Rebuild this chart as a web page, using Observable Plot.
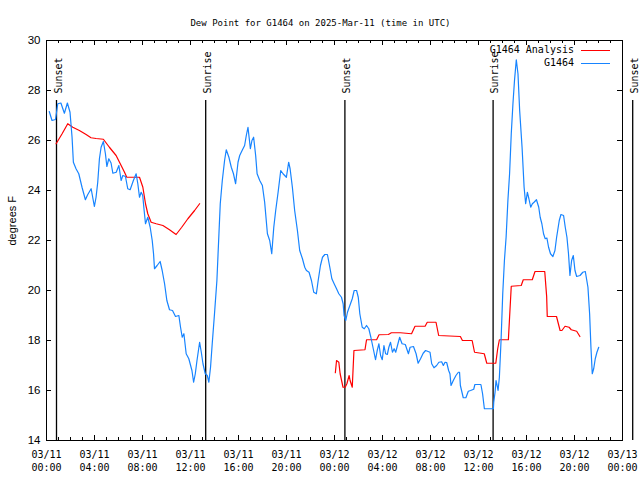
<!DOCTYPE html>
<html>
<head>
<meta charset="utf-8">
<script src="https://cdn.jsdelivr.net/npm/d3@7"></script>
<script src="https://cdn.jsdelivr.net/npm/@observablehq/plot@0.6"></script>
<style>
  body { margin: 0; background: #fff; }
  #wrap { position: relative; width: 640px; height: 480px; }
  .legtext { position: absolute; font: 10px "DejaVu Sans Mono", monospace; color: #000; white-space: pre; text-align: right; line-height: 12px; }
  .legline { position: absolute; height: 1px; }
</style>
</head>
<body>
<div id="wrap"></div>
<script>
// ---- data ----
const titleText = "Dew Point for G1464 on 2025-Mar-11 (time in UTC)";
const yLabel = "degrees F";
const startTime = "2025-03-11T00:00Z";
const endTime = "2025-03-13T00:00Z";
const yTicks = [14, 16, 18, 20, 22, 24, 26, 28, 30];
const seriesNames = ["G1464 Analysis", "G1464"];
const seriesColors = ["#ff0000", "#1784ff"];

const sunTimes = ["2025-03-11T00:50Z", "2025-03-11T13:16Z", "2025-03-12T00:52Z", "2025-03-12T13:13Z", "2025-03-13T00:51Z"];
const sunLabels = ["Sunset", "Sunrise", "Sunset", "Sunrise", "Sunset"];

// G1464 observations: hours since 03/11 00:00 UTC, and dew point (F)
const g1464Hours = [0.23,0.46,0.75,0.94,1.2,1.49,1.74,1.96,2.13,2.24,2.46,2.69,2.96,3.24,3.43,3.72,3.99,4.13,4.27,4.41,4.55,4.74,4.91,5.03,5.19,5.38,5.53,5.81,6.03,6.22,6.36,6.58,6.77,6.97,7.24,7.47,7.61,7.75,7.89,8.02,8.11,8.25,8.44,8.64,8.81,8.92,9.0,9.22,9.47,9.64,9.84,10.03,10.25,10.5,10.75,11.03,11.17,11.31,11.45,11.64,11.86,12.12,12.26,12.4,12.54,12.76,12.9,13.04,13.23,13.4,13.53,13.67,13.81,14.0,14.2,14.37,14.48,14.65,14.84,14.98,15.2,15.4,15.58,15.76,15.96,16.1,16.3,16.51,16.65,16.79,16.99,17.12,17.26,17.43,17.55,17.77,17.99,18.18,18.41,18.6,18.77,18.94,19.1,19.3,19.52,19.71,19.99,20.18,20.3,20.49,20.68,20.91,21.1,21.33,21.52,21.66,21.88,22.08,22.27,22.49,22.64,22.83,23.0,23.19,23.41,23.61,23.78,23.97,24.17,24.36,24.58,24.72,24.8,24.94,25.08,25.28,25.48,25.64,25.84,25.98,26.11,26.31,26.48,26.67,26.86,27.03,27.23,27.42,27.56,27.7,27.84,27.98,28.12,28.26,28.4,28.53,28.67,28.83,28.97,29.1,29.43,29.63,29.9,30.16,30.3,30.58,30.8,30.97,31.17,31.39,31.59,31.96,32.1,32.29,32.51,32.7,32.93,33.07,33.21,33.35,33.51,33.62,33.71,33.9,34.12,34.32,34.42,34.49,34.73,34.95,35.15,35.34,35.6,35.7,36.2,36.34,36.49,37.24,37.27,37.38,37.46,37.55,37.63,37.74,37.88,38.02,38.16,38.3,38.45,38.59,38.73,38.87,39.0,39.15,39.29,39.43,39.63,39.8,39.93,40.07,40.2,40.35,40.49,40.63,40.83,41.02,41.14,41.28,41.42,41.56,41.7,41.84,42.0,42.2,42.37,42.51,42.73,42.87,43.09,43.23,43.37,43.5,43.62,43.76,43.9,44.04,44.18,44.46,44.69,44.9,45.12,45.26,45.37,45.48,45.6,45.73,45.87,46.02];
const g1464Values = [27.16,26.8,26.84,27.47,27.5,27.09,27.5,27.13,26.13,25.13,24.87,24.67,24.13,23.63,23.83,24.07,23.36,23.73,24.33,25.27,25.73,25.96,25.47,24.96,25.27,25.1,24.69,24.73,25.0,24.4,24.6,24.56,24.07,24.03,24.4,24.67,24.27,23.73,23.93,23.8,23.33,22.67,22.93,22.53,22.0,21.47,20.87,21.0,21.16,20.8,20.27,19.6,19.23,19.2,18.96,19.0,18.53,18.13,18.27,17.47,17.27,16.8,16.33,16.67,17.2,17.93,17.53,17.07,16.67,16.6,16.33,16.93,17.87,19.07,20.4,22.27,23.47,24.4,25.2,25.63,25.33,24.93,24.67,24.27,25.13,25.4,25.6,25.8,26.2,26.53,25.67,26.0,26.13,25.4,24.67,24.4,24.2,23.53,22.27,22.0,21.47,22.53,23.2,23.93,24.8,24.67,24.53,25.13,24.87,24.13,23.2,22.4,21.6,21.27,20.93,20.8,20.73,20.4,19.93,19.87,20.4,21.0,21.33,21.44,21.44,20.93,20.47,20.27,20.07,19.87,19.73,19.47,19.0,18.8,19.13,19.4,19.67,20.0,20.0,19.73,19.07,18.53,18.47,18.6,18.47,18.13,17.67,17.23,17.6,17.87,17.4,17.23,17.8,17.47,17.44,17.73,17.93,17.53,17.67,17.53,18.13,17.87,17.84,17.47,17.73,17.76,17.47,17.09,17.27,17.49,17.6,17.53,17.07,16.91,17.0,17.13,17.15,17.0,17.13,17.12,16.8,16.67,16.2,16.4,16.6,16.73,16.73,16.2,15.71,15.71,15.97,16.0,16.05,16.24,16.24,15.87,15.27,15.27,15.53,15.93,16.4,16.2,16.0,16.53,18.0,19.87,21.2,22.13,23.6,24.67,26.27,27.47,28.4,29.23,28.67,27.2,25.73,24.13,23.47,23.93,23.67,23.33,23.47,23.53,23.63,23.33,22.93,22.67,22.27,22.07,22.1,21.73,21.47,21.36,21.6,22.13,22.8,23.04,23.0,22.53,22.13,21.47,20.6,21.2,21.4,20.8,20.56,20.6,20.73,20.76,20.13,19.07,17.73,16.67,16.87,17.27,17.53,17.73];

// G1464 Analysis: hours since 03/11 00:00 UTC, dew point (F); null marks a gap
const analysisHours = [0.8,1.3,1.77,2.19,2.74,3.3,3.71,4.13,4.74,5.24,5.8,6.22,6.5,6.69,7.75,8.03,8.25,8.44,8.72,9.14,9.7,10.25,10.8,11.27,11.78,12.34,12.76,18.0,24.07,24.17,24.36,24.47,24.71,24.89,25.03,25.22,25.3,25.48,25.62,26.54,26.67,27.51,27.71,28.49,28.74,29.49,30.42,30.71,31.55,31.73,32.46,32.68,34.49,34.66,35.47,35.67,36.48,36.69,37.44,37.6,37.74,38.49,38.73,39.56,39.73,40.48,40.71,41.52,41.68,41.73,42.5,42.8,42.95,43.21,43.55,43.73,44.18,44.45];
const analysisValues = [25.87,26.27,26.67,26.53,26.4,26.24,26.11,26.08,26.05,25.73,25.4,25.0,24.73,24.53,24.53,24.13,23.47,23.07,22.73,22.67,22.6,22.43,22.24,22.53,22.87,23.2,23.47,null,16.71,17.2,17.13,16.67,16.13,16.13,16.27,16.6,16.4,16.13,17.6,17.63,18.03,18.03,18.23,18.24,18.31,18.31,18.27,18.57,18.57,18.73,18.73,18.2,18.16,18.0,18.0,17.53,17.47,17.09,17.09,17.67,18.03,18.03,20.17,20.2,20.43,20.43,20.76,20.76,19.76,18.96,18.96,18.4,18.4,18.57,18.53,18.43,18.37,18.16];

// ---- build ----
const t0 = Date.parse(startTime);
const toDate = h => new Date(t0 + h * 3600e3);
const obs = g1464Hours.map((h, i) => ({t: toDate(h), v: g1464Values[i]}));
const ana = analysisHours.map((h, i) => ({t: toDate(h), v: analysisValues[i]}));
const sun = sunTimes.map((s, i) => ({t: new Date(s), label: sunLabels[i]}));
const x0 = new Date(startTime), x1 = new Date(endTime);
const majorTicks = d3.utcHour.every(4).range(x0, new Date(+x1 + 1));
const minorTicks = d3.utcHour.range(x0, x1).filter(d => d.getUTCHours() % 4 !== 0);
const fmt = d3.utcFormat("%m/%d\n%H:%M");

const W = 640, H = 480, mL = 46, mR = 18, mT = 40, mB = 40;
const pw = W - mL - mR, ph = H - mT - mB;
const mono = "DejaVu Sans Mono, monospace";
const sans = "Liberation Sans, Arial, sans-serif";

const chart = Plot.plot({
  width: W, height: H,
  marginLeft: mL, marginRight: mR, marginTop: mT, marginBottom: mB,
  x: {type: "utc", domain: [x0, x1], axis: null},
  y: {domain: [14, 30], axis: null},
  style: {background: "white", overflow: "visible"},
  marks: [
    Plot.ruleX(sun, {x: "t", insetTop: 60, stroke: "black", strokeWidth: 1.3}),
    Plot.text(sun, {x: "t", text: "label", rotate: -90, frameAnchor: "top", dy: 53, dx: -2,
      textAnchor: "start", fontFamily: mono, fontSize: 10, fill: "black"}),
    Plot.line(ana, {x: "t", y: "v", stroke: seriesColors[0], strokeWidth: 1.2, clip: true}),
    Plot.line(obs, {x: "t", y: "v", stroke: seriesColors[1], strokeWidth: 1.2, clip: true}),
    Plot.frame({stroke: "black", strokeWidth: 1}),
    // bottom & top ticks (inward)
    Plot.tickX(majorTicks, {x: d => d, insetTop: ph - 5, stroke: "black"}),
    Plot.tickX(minorTicks, {x: d => d, insetTop: ph - 3, stroke: "black"}),
    Plot.tickX(majorTicks, {x: d => d, insetBottom: ph - 5, stroke: "black"}),
    Plot.tickX(minorTicks, {x: d => d, insetBottom: ph - 3, stroke: "black"}),
    // left & right ticks (inward)
    Plot.tickY(yTicks, {y: d => d, insetRight: pw - 5, stroke: "black"}),
    Plot.tickY(yTicks, {y: d => d, insetLeft: pw - 5, stroke: "black"}),
    // tick labels
    Plot.text(majorTicks, {x: d => d, text: d => fmt(d), frameAnchor: "bottom", lineAnchor: "top",
      dy: 8, lineHeight: 1.3, fontFamily: mono, fontSize: 10, fill: "black"}),
    Plot.text(yTicks, {y: d => d, text: d => String(d), frameAnchor: "left", dx: -6,
      textAnchor: "end", fontFamily: sans, fontSize: 11.5, fill: "black"}),
    Plot.text([yLabel], {text: d => d, frameAnchor: "left", dx: -34, dy: 5, rotate: -90,
      fontFamily: sans, fontSize: 11, fill: "black"}),
    Plot.text([titleText], {text: d => d, frameAnchor: "top", dy: -21, dx: -(mL - mR) / 2,
      fontFamily: mono, fontSize: 9, fill: "black"})
  ]
});

const wrap = document.getElementById("wrap");
wrap.appendChild(chart);

// legend (top right, inside plot)
seriesNames.forEach((name, i) => {
  const cy = 50 + i * 13;
  const t = document.createElement("div");
  t.className = "legtext";
  t.textContent = name;
  t.style.right = (W - 574) + "px";
  t.style.top = (cy - 6) + "px";
  wrap.appendChild(t);
  const l = document.createElement("div");
  l.className = "legline";
  l.style.left = "581px";
  l.style.width = "29px";
  l.style.top = cy + "px";
  l.style.background = seriesColors[i];
  wrap.appendChild(l);
});
</script>
</body>
</html>
